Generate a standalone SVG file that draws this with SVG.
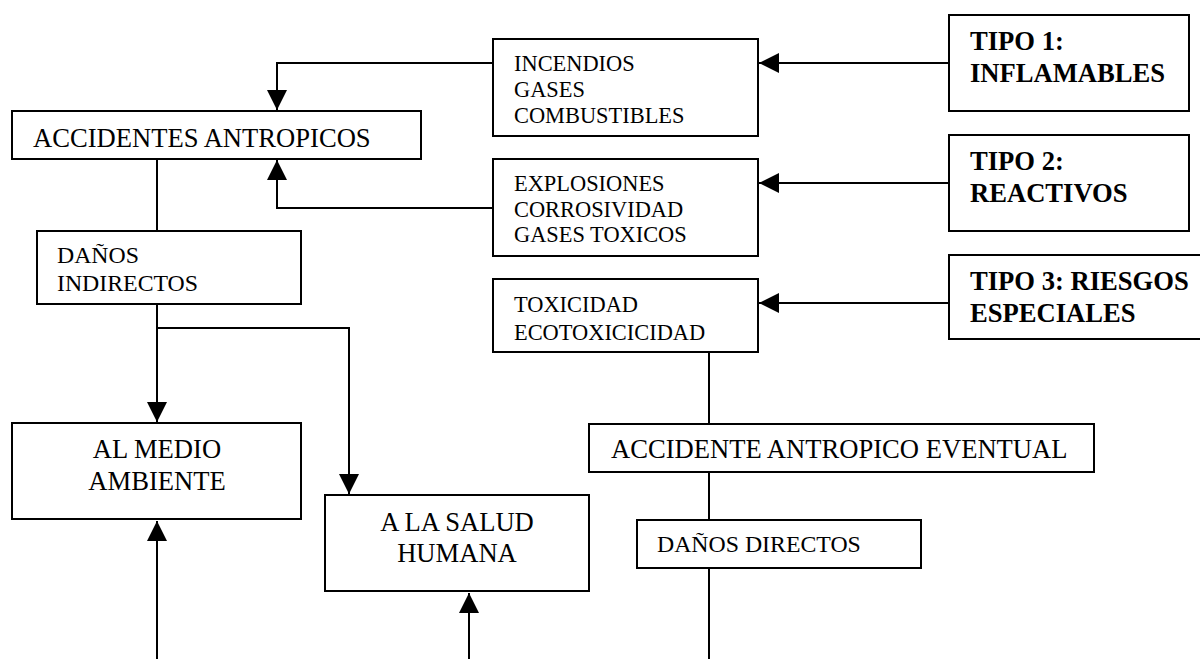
<svg xmlns="http://www.w3.org/2000/svg" width="1200" height="659" viewBox="0 0 1200 659">
  <style>
    .box { fill: #fff; stroke: #000; stroke-width: 2; }
    .wire { fill: none; stroke: #000; stroke-width: 2; }
    .t { font-family: "Liberation Serif", "Times New Roman", serif; fill: #000; }
    .big { font-size: 26.6px; }
    .mid { font-size: 23.8px; }
    .small { font-size: 22.4px; }
    .bold { font-size: 26.6px; font-weight: bold; }
  </style>
  <defs>
    <marker id="arrow" markerUnits="userSpaceOnUse" markerWidth="20" markerHeight="20" viewBox="0 0 20 20" refX="20" refY="10" orient="auto">
      <path d="M0,0 L20,10 L0,20 Z" fill="#000"/>
    </marker>
  </defs>
  <rect width="1200" height="659" fill="#fff"/>

  <!-- connectors -->
  <g id="connectors">
    <path class="wire" d="M493,63 H277 V110" marker-end="url(#arrow)"/>
    <path class="wire" d="M493,208 H277 V160" marker-end="url(#arrow)"/>
    <path class="wire" d="M949,63 H759" marker-end="url(#arrow)"/>
    <path class="wire" d="M949,183 H759" marker-end="url(#arrow)"/>
    <path class="wire" d="M949,303 H759" marker-end="url(#arrow)"/>
    <path class="wire" d="M157,159 V231"/>
    <path class="wire" d="M157,304 V422" marker-end="url(#arrow)"/>
    <path class="wire" d="M157,328 H349 V494" marker-end="url(#arrow)"/>
    <path class="wire" d="M157,659 V521" marker-end="url(#arrow)"/>
    <path class="wire" d="M469,659 V593" marker-end="url(#arrow)"/>
    <path class="wire" d="M709,352 V424"/>
    <path class="wire" d="M709,472 V520"/>
    <path class="wire" d="M709,568 V659"/>
  </g>

  <!-- nodes -->
  <g id="accidentes-antropicos">
    <rect class="box" x="12" y="111" width="409" height="48"/>
    <text class="t big" x="33" y="147">ACCIDENTES ANTROPICOS</text>
  </g>
  <g id="incendios">
    <rect class="box" x="493" y="39" width="265" height="97"/>
    <text class="t small" x="514" y="71">INCENDIOS</text>
    <text class="t small" x="514" y="97">GASES</text>
    <text class="t small" x="514" y="123">COMBUSTIBLES</text>
  </g>
  <g id="explosiones">
    <rect class="box" x="493" y="159" width="265" height="97"/>
    <text class="t small" x="514" y="191">EXPLOSIONES</text>
    <text class="t small" x="514" y="217">CORROSIVIDAD</text>
    <text class="t small" x="514" y="242">GASES TOXICOS</text>
  </g>
  <g id="toxicidad">
    <rect class="box" x="493" y="279" width="265" height="73"/>
    <text class="t small" x="514" y="312">TOXICIDAD</text>
    <text class="t small" x="514" y="340">ECOTOXICICIDAD</text>
  </g>
  <g id="tipo1">
    <rect class="box" x="949" y="15" width="240" height="96"/>
    <text class="t bold" x="970" y="50">TIPO 1:</text>
    <text class="t bold" x="970" y="82">INFLAMABLES</text>
  </g>
  <g id="tipo2">
    <rect class="box" x="949" y="135" width="240" height="96"/>
    <text class="t bold" x="970" y="170">TIPO 2:</text>
    <text class="t bold" x="970" y="202">REACTIVOS</text>
  </g>
  <g id="tipo3">
    <rect class="box" x="949" y="255" width="260" height="84"/>
    <text class="t bold" x="970" y="290">TIPO 3: RIESGOS</text>
    <text class="t bold" x="970" y="322">ESPECIALES</text>
  </g>
  <g id="danos-indirectos">
    <rect class="box" x="37" y="231" width="264" height="73"/>
    <text class="t mid" x="57" y="263">DAÑOS</text>
    <text class="t mid" x="57" y="291">INDIRECTOS</text>
  </g>
  <g id="medio-ambiente">
    <rect class="box" x="12" y="423" width="289" height="96"/>
    <text class="t big" x="157" y="458" text-anchor="middle">AL MEDIO</text>
    <text class="t big" x="157" y="490" text-anchor="middle">AMBIENTE</text>
  </g>
  <g id="salud-humana">
    <rect class="box" x="325" y="495" width="264" height="96"/>
    <text class="t big" x="457" y="531" text-anchor="middle">A LA SALUD</text>
    <text class="t big" x="457" y="562" text-anchor="middle">HUMANA</text>
  </g>
  <g id="accidente-eventual">
    <rect class="box" x="589" y="424" width="505" height="48"/>
    <text class="t big" x="611" y="458">ACCIDENTE ANTROPICO EVENTUAL</text>
  </g>
  <g id="danos-directos">
    <rect class="box" x="637" y="520" width="284" height="48"/>
    <text class="t mid" x="657" y="552">DAÑOS DIRECTOS</text>
  </g>
</svg>
